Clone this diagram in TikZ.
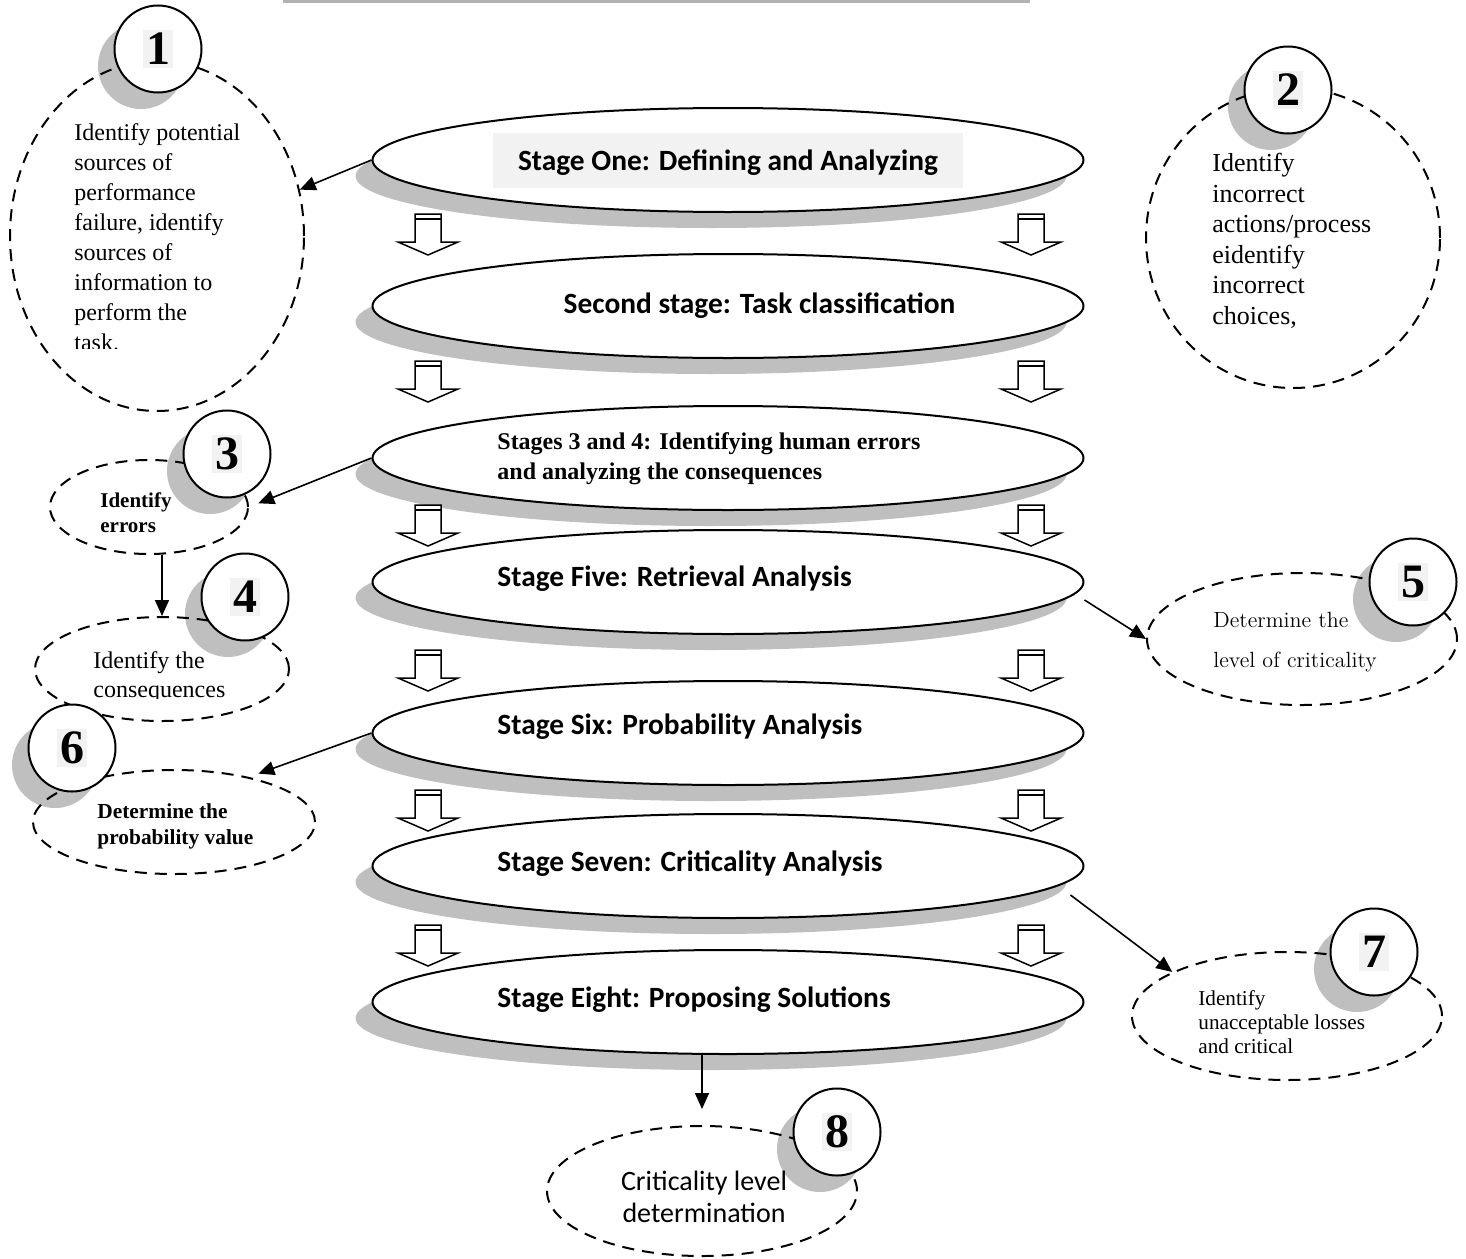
\documentclass[tikz,border=0pt]{standalone}
\usepackage{fontspec}
\setmainfont{Liberation Serif}
\newfontfamily\calibri{Carlito}
\usetikzlibrary{arrows.meta,shapes.geometric}
\begin{document}
\begin{tikzpicture}[x=0.5pt,y=-0.5pt,
  stage/.style={ellipse, draw, line width=1pt, fill=white, minimum width=355.5pt, minimum height=52pt, inner sep=0pt},
  stageshadow/.style={ellipse, fill=gray!50, minimum width=355.5pt, minimum height=52pt, inner sep=0pt},
  dashell/.style={ellipse, draw, dash pattern=on 6pt off 4pt, line width=1pt, inner sep=0pt},
  numcirc/.style={circle, draw, line width=1pt, fill=white, minimum size=43.5pt, inner sep=0pt},
  numshadow/.style={circle, fill=gray!50, minimum size=43pt, inner sep=0pt},
  numlabel/.style={fill=gray!10, inner sep=1.5pt, font=\fontsize{24}{24}\selectfont\bfseries},
  conn/.style={line width=0.8pt, -{Triangle[length=8pt,width=7pt]}},
  txt/.style={anchor=north west, align=left, inner sep=0pt},
  stagetxt/.style={font=\calibri\fontsize{14.7}{17}\selectfont\bfseries, inner sep=0pt},
  harrow/.pic={
    \draw[line width=0.75pt, fill=white] (-13,0) -- (13,0) -- (13,28) -- (30,28) -- (0,41) -- (-30,28) -- (-13,28) -- cycle;
    \draw[line width=1pt] (-13,5) -- (13,5);
  }
]
\useasboundingbox (0,0) rectangle (1466,1258);

% top line
\draw[line width=1.5pt, gray!60] (283,1) -- (1030,1);

% stage ellipses
\node[stageshadow] (s1sh) at (711,176) {};
\node[stage] (s1) at (728,160) {};
\node[stageshadow] (s2sh) at (711,322) {};
\node[stage] (s2) at (728,306) {};
\node[stageshadow] (s34sh) at (711,474) {};
\node[stage] (s34) at (728,458) {};
\node[stageshadow] (s5sh) at (711,598) {};
\node[stage] (s5) at (728,582) {};
\node[stageshadow] (s6sh) at (711,749) {};
\node[stage] (s6) at (728,733) {};
\node[stageshadow] (s7sh) at (711,882) {};
\node[stage] (s7) at (728,866) {};
\node[stageshadow] (s8sh) at (711,1018) {};
\node[stage] (s8) at (728,1002) {};

% stage texts
\node[fill=gray!10, minimum width=235pt, minimum height=27.5pt, inner sep=0pt] (s1box) at (728,160.5) {};
\node[stagetxt, anchor=base] (s1t) at (728,170) {Stage One: Defining and Analyzing};
\node[stagetxt, anchor=base] (s2t) at (759.5,313) {Second stage: Task classification};
\node[txt, font=\fontsize{12}{15}\selectfont\bfseries] (s34t) at (497,432.6) {Stages 3 and 4: Identifying human errors\\and analyzing the consequences};
\node[stagetxt, anchor=base west] (s5t) at (497,586.5) {Stage Five: Retrieval Analysis};
\node[stagetxt, anchor=base west] (s6t) at (497,734) {Stage Six: Probability Analysis};
\node[stagetxt, anchor=base west] (s7t) at (497,871) {Stage Seven: Criticality Analysis};
\node[stagetxt, anchor=base west] (s8t) at (497,1007) {Stage Eight: Proposing Solutions};

% hollow arrows
\foreach \yy in {214,361,505,650,790,925} {
  \pic at (428,\yy) {harrow};
  \pic at (1031,\yy) {harrow};
}

% number shadows
\node[numshadow] (n1sh) at (141,66) {};
\node[numshadow] (n2sh) at (1271,107) {};
\node[numshadow] (n3sh) at (210,471) {};
\node[numshadow] (n4sh) at (228,614) {};
\node[numshadow] (n5sh) at (1396,599) {};
\node[numshadow] (n6sh) at (55,765) {};
\node[numshadow] (n7sh) at (1357,969) {};
\node[numshadow] (n8sh) at (820,1149) {};

% dashed ellipses
\node[dashell, minimum width=147pt, minimum height=175pt] (d1) at (157,236) {};
\node[dashell, minimum width=147pt, minimum height=150pt] (d2) at (1293,238) {};
\node[dashell, minimum width=99pt, minimum height=47pt] (d3) at (149,507) {};
\node[dashell, minimum width=127pt, minimum height=52pt] (d4) at (162,669) {};
\node[dashell, minimum width=155pt, minimum height=66pt] (d5) at (1302,639) {};
\node[dashell, minimum width=141pt, minimum height=52pt] (d6) at (174,822) {};
\node[dashell, minimum width=155pt, minimum height=64pt] (d7) at (1287,1016) {};
\node[dashell, minimum width=155pt, minimum height=65pt] (d8) at (702,1191) {};

% dashed texts
\begin{scope}
\clip (60,110) rectangle (310,348);
\node[txt, font=\fontsize{12}{15}\selectfont] (t1) at (74,123) {Identify potential\\sources of\\performance\\failure, identify\\sources of\\information to\\perform the\\task.};
\end{scope}
\node[txt, font=\fontsize{13}{15.25}\selectfont] (t2) at (1212,153) {Identify\\incorrect\\actions/process\\eidentify\\incorrect\\choices,};
\node[txt, font=\fontsize{10.5}{12.5}\selectfont\bfseries] (t3) at (100,492.8) {Identify\\errors};
\begin{scope}
\clip (80,640) rectangle (270,698);
\node[txt, font=\fontsize{12}{14.5}\selectfont] (t4) at (93,651.6) {Identify the\\consequences};
\end{scope}
\node[txt, font=\fontfamily{lmr}\fontsize{11}{20}\selectfont] (t5) at (1213,611.7) {Determine the\\level of criticality};
\node[txt, font=\fontsize{10.7}{13}\selectfont\bfseries] (t6) at (97,803.5) {Determine the\\probability value};
\node[txt, font=\fontsize{10.6}{12}\selectfont] (t7) at (1198,990.5) {Identify\\unacceptable losses\\and critical};
\node[anchor=north, align=center, inner sep=0pt, font=\calibri\fontsize{14}{16}\selectfont] (t8) at (704,1171) {Criticality level\\determination};

% number circles
\node[numcirc] (n1) at (158,49) {};
\node[numlabel] (n1l) at (n1) {1};
\node[numcirc] (n2) at (1288,90) {};
\node[numlabel] (n2l) at (n2) {2};
\node[numcirc] (n3) at (227,454) {};
\node[numlabel] (n3l) at (n3) {3};
\node[numcirc] (n4) at (245,597) {};
\node[numlabel] (n4l) at (n4) {4};
\node[numcirc] (n5) at (1413,582) {};
\node[numlabel] (n5l) at (n5) {5};
\node[numcirc] (n6) at (72,748) {};
\node[numlabel] (n6l) at (n6) {6};
\node[numcirc] (n7) at (1374,952) {};
\node[numlabel] (n7l) at (n7) {7};
\node[numcirc] (n8) at (837,1132) {};
\node[numlabel] (n8l) at (n8) {8};

% connectors
\draw[conn] (s1.west) -- (d1.18);
\draw[conn, shorten >=5pt] (s34.west) -- (d3.east);
\draw[conn] (d3.south -| d4.north) -- (d4.north);
\draw[conn] ([shift={(0,18)}]s5.east) -- (d5.west);
\draw[conn, shorten >=5pt] (s6.west) -- (d6.31);
\draw[conn] ([shift={(-14,29)}]s7.east) -- (d7.159);
\draw[conn, shorten >=8pt] (s8.south -| d8.north) -- (d8.north);
\end{tikzpicture}
\end{document}
